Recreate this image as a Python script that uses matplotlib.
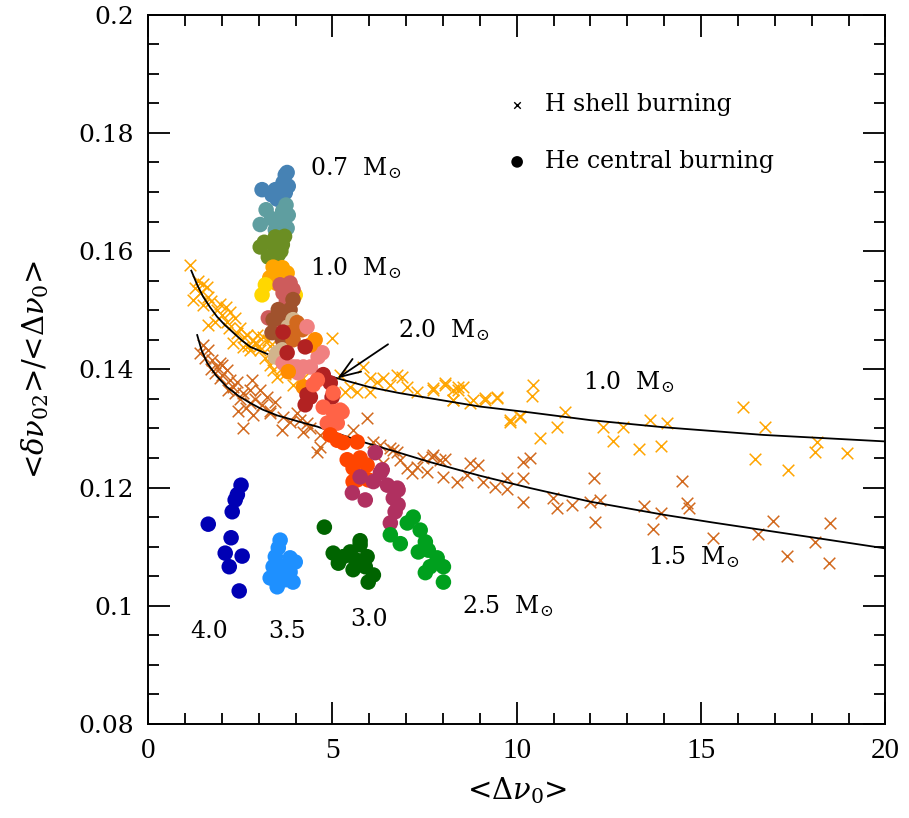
import numpy as np
import matplotlib
matplotlib.use("Agg")
import matplotlib.pyplot as plt
from matplotlib.ticker import MultipleLocator

plt.rcParams['font.family'] = ['DejaVu Serif']
plt.rcParams['mathtext.fontset'] = 'dejavuserif'

# --- H shell burning tracks (crosses) ---
h10_x = [1.14, 1.28, 1.41, 1.60, 1.22, 1.63, 1.49, 1.87, 2.01, 2.23, 1.82, 2.14, 2.36, 1.63,
         2.42, 2.69, 2.31, 2.58, 2.85, 2.96, 3.12, 3.26, 2.77, 3.04, 3.18, 3.31, 3.39, 3.50,
         3.93, 4.99, 5.83, 6.02, 6.21, 6.38, 6.76, 6.89, 6.57, 7.03, 7.30, 7.73, 8.06, 8.28,
         8.41, 8.28, 8.82, 9.15, 9.47, 9.82, 10.09, 5.48, 5.67, 5.35, 6.02, 4.20, 4.60, 5.20,
         4.40, 1.70, 1.95, 2.10, 2.50, 2.70, 2.90, 3.00, 3.30, 3.60, 2.20, 1.35, 1.50, 2.60,
         3.40, 3.70,
         7.73, 8.06, 8.41, 8.55, 8.28, 8.74, 9.15, 9.47, 9.82, 10.09, 10.45, 10.42, 10.64,
         11.10, 11.32, 12.35, 12.62, 12.89, 13.32, 13.62, 13.92, 14.08, 16.15, 16.47, 16.74,
         17.37, 18.15, 18.10, 18.97]
h10_y = [0.1577, 0.1538, 0.1529, 0.1540, 0.1518, 0.1523, 0.1509, 0.1501, 0.1492, 0.1497,
         0.1480, 0.1480, 0.1487, 0.1475, 0.1462, 0.1458, 0.1445, 0.1438, 0.1450, 0.1458,
         0.1455, 0.1450, 0.1433, 0.1433, 0.1419, 0.1408, 0.1399, 0.1387, 0.1374, 0.1453,
         0.1404, 0.1386, 0.1379, 0.1386, 0.1391, 0.1387, 0.1374, 0.1370, 0.1362, 0.1369,
         0.1377, 0.1365, 0.1370, 0.1348, 0.1348, 0.1352, 0.1353, 0.1314, 0.1320, 0.1370,
         0.1362, 0.1362, 0.1362, 0.1385, 0.1390, 0.1390, 0.1365, 0.1515, 0.1510, 0.1505,
         0.1470, 0.1440, 0.1445, 0.1440, 0.1440, 0.1400, 0.1470, 0.1550, 0.1545, 0.1455,
         0.1425, 0.1392,
         0.1365, 0.1374, 0.1365, 0.1370, 0.1348, 0.1343, 0.1348, 0.1352, 0.1311, 0.1321,
         0.1374, 0.1355, 0.1284, 0.1303, 0.1328, 0.1303, 0.1279, 0.1303, 0.1265, 0.1314,
         0.1270, 0.1309, 0.1336, 0.1249, 0.1303, 0.1230, 0.1277, 0.1260, 0.1259]

h15_x = [1.49, 1.63, 1.41, 1.74, 1.87, 2.01, 2.14, 1.82, 1.95, 2.23, 2.42, 2.17, 2.36, 2.58,
         2.77, 2.82, 3.04, 3.23, 3.45, 2.77, 2.85, 2.58, 3.31, 3.66, 3.85, 4.04, 4.31, 4.21,
         3.64, 4.67, 4.12, 4.40, 4.67, 4.59, 5.56, 5.94, 6.11, 6.30, 6.38, 6.65, 6.84, 7.03,
         7.30, 7.46, 7.57, 7.16, 6.57, 6.76, 7.73, 7.92, 1.55, 1.70, 2.00, 2.30, 2.50, 2.65,
         2.90, 3.10, 3.30, 2.45, 1.95,
         7.71, 8.06, 8.01, 8.39, 8.66, 8.74, 8.96, 9.09, 9.42, 9.74, 9.74, 10.18, 10.37,
         10.18, 10.18, 10.99, 11.10, 11.51, 12.00, 12.10, 12.27, 12.13, 13.46, 13.70, 13.92,
         14.49, 14.63, 14.68, 15.33, 16.55, 16.96, 17.34, 18.10, 18.51, 18.48]
h15_y = [0.1441, 0.1433, 0.1428, 0.1416, 0.1404, 0.1408, 0.1399, 0.1394, 0.1386, 0.1382,
         0.1379, 0.1365, 0.1360, 0.1360, 0.1365, 0.1382, 0.1365, 0.1353, 0.1345, 0.1343,
         0.1323, 0.1301, 0.1326, 0.1320, 0.1311, 0.1326, 0.1309, 0.1294, 0.1298, 0.1289,
         0.1314, 0.1301, 0.1269, 0.1260, 0.1298, 0.1318, 0.1277, 0.1272, 0.1242, 0.1264,
         0.1247, 0.1233, 0.1235, 0.1250, 0.1226, 0.1225, 0.1267, 0.1260, 0.1255, 0.1247,
         0.1420, 0.1400, 0.1390, 0.1370, 0.1350, 0.1335, 0.1350, 0.1340, 0.1330, 0.1330,
         0.1410,
         0.1252, 0.1248, 0.1218, 0.1210, 0.1221, 0.1242, 0.1238, 0.1210, 0.1201, 0.1216,
         0.1198, 0.1243, 0.1250, 0.1216, 0.1176, 0.1182, 0.1166, 0.1171, 0.1176, 0.1216,
         0.1179, 0.1142, 0.1169, 0.1130, 0.1157, 0.1211, 0.1174, 0.1166, 0.1115, 0.1122,
         0.1144, 0.1084, 0.1108, 0.1140, 0.1072]

# model curves
line10_x = [1.17, 1.33, 1.49, 1.68, 1.87, 2.08, 2.31, 2.54, 2.77, 3.04, 3.31, 3.70, 4.12,
            4.89, 6.00, 6.80, 7.65, 9.00, 10.37, 12.00, 13.98, 16.69, 18.50, 20.0]
line10_y = [0.1567, 0.1543, 0.1523, 0.1505, 0.1489, 0.1475, 0.1462, 0.1449, 0.1438, 0.1431,
            0.1424, 0.1413, 0.1403, 0.1389, 0.1370, 0.1360, 0.1351, 0.1337, 0.1327, 0.1314,
            0.1302, 0.1289, 0.1283, 0.1278]
line15_x = [1.33, 1.45, 1.60, 1.85, 2.14, 2.45, 2.77, 3.10, 3.50, 4.12, 4.59, 5.20, 5.83,
            6.70, 7.65, 9.00, 10.37, 12.00, 13.98, 15.30, 16.69, 18.30, 20.0]
line15_y = [0.1458, 0.1432, 0.1411, 0.1389, 0.1370, 0.1355, 0.1343, 0.1332, 0.1322, 0.1311,
            0.1303, 0.1290, 0.1277, 0.1261, 0.1243, 0.1220, 0.1199, 0.1176, 0.1154, 0.1141,
            0.1128, 0.1113, 0.1097]

# --- He central burning clumps (filled circles) ---
steelblue_x = [3.77, 3.72, 3.66, 3.58, 3.45, 3.36, 3.72, 3.09, 3.62, 3.50, 3.80]
steelblue_y = [0.1733, 0.1729, 0.1716, 0.1700, 0.1704, 0.1695, 0.1699, 0.1704, 0.1690, 0.1688, 0.1710]
cadet_x = [3.74, 3.80, 3.58, 3.77, 3.45, 3.04, 3.20, 3.65, 3.35]
cadet_y = [0.1678, 0.1661, 0.1650, 0.1639, 0.1636, 0.1645, 0.1670, 0.1668, 0.1655]
olive_x = [3.04, 3.39, 3.64, 3.26, 3.53, 3.45, 3.70, 3.15, 3.60]
olive_y = [0.1607, 0.1611, 0.1611, 0.1590, 0.1594, 0.1624, 0.1625, 0.1615, 0.1600]
orange_x = [3.39, 3.64, 3.77, 3.55, 3.30, 3.50]
orange_y = [0.1573, 0.1572, 0.1563, 0.1560, 0.1555, 0.1545]
gold_x = [3.18, 3.09, 3.99]
gold_y = [0.1543, 0.1526, 0.1526]
indianred_x = [3.58, 3.85, 3.66, 3.26, 3.45, 3.93, 3.75]
indianred_y = [0.1543, 0.1546, 0.1529, 0.1487, 0.1479, 0.1535, 0.1515]
sienna_x = [3.93, 3.85, 3.53, 3.39, 3.66, 3.36, 3.64]
sienna_y = [0.1518, 0.1501, 0.1501, 0.1484, 0.1484, 0.1462, 0.1450]
tan_x = [3.93, 3.80, 3.50, 3.45, 3.64]
tan_y = [0.1484, 0.1472, 0.1428, 0.1421, 0.1433]
choc_x = [4.04, 4.18, 3.93, 3.85]
choc_y = [0.1479, 0.1467, 0.1450, 0.1462]
coral_x = [4.31, 3.93, 4.21, 3.66, 4.07, 4.61, 4.72, 4.40, 4.04]
coral_y = [0.1472, 0.1404, 0.1404, 0.1411, 0.1394, 0.1421, 0.1428, 0.1404, 0.1404]
dorange_x = [4.40, 4.53, 3.80, 4.21]
dorange_y = [0.1441, 0.1450, 0.1396, 0.1370]
firebrick_x = [3.66, 4.26, 3.77, 4.75, 4.94, 4.40, 4.26, 4.99, 4.31]
firebrick_y = [0.1463, 0.1438, 0.1428, 0.1391, 0.1377, 0.1353, 0.1340, 0.1353, 0.1357]
tomato_x = [4.48, 5.02, 5.02, 5.26, 4.86, 5.13, 4.59, 4.75, 5.21]
tomato_y = [0.1374, 0.1360, 0.1328, 0.1328, 0.1309, 0.1309, 0.1382, 0.1336, 0.1331]
orangered_x = [4.94, 5.29, 5.67, 5.13, 5.40, 5.75, 5.94, 5.56, 5.67, 5.97, 5.56]
orangered_y = [0.1289, 0.1276, 0.1277, 0.1280, 0.1247, 0.1250, 0.1238, 0.1233, 0.1213, 0.1213, 0.1210]
maroon_x = [5.75, 6.30, 6.11, 6.49, 6.78, 5.54, 5.89, 6.65, 6.78, 6.70, 6.57, 6.16, 6.35, 6.76]
maroon_y = [0.1218, 0.1225, 0.1210, 0.1204, 0.1196, 0.1191, 0.1179, 0.1182, 0.1171, 0.1159,
            0.1140, 0.1259, 0.1230, 0.1199]
green_x = [7.19, 7.03, 7.38, 6.57, 6.84, 7.52, 7.60, 7.33, 7.84, 8.01, 7.65, 7.52, 8.01]
green_y = [0.1150, 0.1140, 0.1128, 0.1120, 0.1105, 0.1108, 0.1094, 0.1091, 0.1081, 0.1066,
           0.1066, 0.1056, 0.1040]
dgreen_x = [4.78, 5.75, 5.02, 5.29, 5.48, 5.94, 5.16, 5.62, 5.56, 5.89, 6.11, 5.97, 5.75]
dgreen_y = [0.1133, 0.1110, 0.1089, 0.1083, 0.1091, 0.1083, 0.1072, 0.1078, 0.1061, 0.1066,
            0.1052, 0.1040, 0.1103]
dodger_x = [3.58, 3.53, 3.45, 3.85, 3.99, 3.39, 3.66, 3.85, 3.31, 3.58, 3.93, 3.50, 3.72]
dodger_y = [0.1111, 0.1098, 0.1083, 0.1081, 0.1074, 0.1066, 0.1066, 0.1057, 0.1047, 0.1049,
            0.1040, 0.1032, 0.1044]
blue_x = [2.52, 2.42, 2.36, 2.28, 1.63, 2.25, 2.09, 2.55, 2.20, 2.47]
blue_y = [0.1204, 0.1188, 0.1179, 0.1159, 0.1138, 0.1115, 0.1089, 0.1084, 0.1066, 0.1025]

he_groups = [
    (steelblue_x, steelblue_y, '#4682b4'),
    (cadet_x, cadet_y, '#5f9ea0'),
    (olive_x, olive_y, '#6b8e23'),
    (orange_x, orange_y, '#ffa500'),
    (gold_x, gold_y, '#ffd700'),
    (indianred_x, indianred_y, '#cd5c5c'),
    (sienna_x, sienna_y, '#a0522d'),
    (tan_x, tan_y, '#d2b48c'),
    (choc_x, choc_y, '#d2691e'),
    (coral_x, coral_y, '#f08080'),
    (dorange_x, dorange_y, '#ff8c00'),
    (firebrick_x, firebrick_y, '#b22222'),
    (tomato_x, tomato_y, '#ff6347'),
    (orangered_x, orangered_y, '#ff4500'),
    (maroon_x, maroon_y, '#b03060'),
    (green_x, green_y, '#00a01e'),
    (dgreen_x, dgreen_y, '#006400'),
    (dodger_x, dodger_y, '#1e90ff'),
    (blue_x, blue_y, '#0000b4'),
]

fig = plt.figure(figsize=(9.09, 8.18), dpi=100)
ax = fig.add_axes([0.163, 0.115, 0.811, 0.867])

ax.scatter(h10_x, h10_y, marker='x', s=70, color='#ffa500', linewidths=1.1, zorder=1)
ax.scatter(h15_x, h15_y, marker='x', s=70, color='#d2691e', linewidths=1.1, zorder=1)
ax.plot(line10_x, line10_y, color='black', lw=1.3, zorder=2)
ax.plot(line15_x, line15_y, color='black', lw=1.3, zorder=2)

for gx, gy, col in he_groups:
    ax.scatter(gx, gy, s=125, color=col, edgecolors='none', zorder=3)

ax.annotate('', xy=(5.07, 0.1382), xytext=(6.57, 0.1445),
            arrowprops=dict(arrowstyle='->,head_length=1.5,head_width=0.55',
                            color='black', lw=1.3), zorder=5)

fs = 17
msun = r'$\mathregular{M}_{\odot}$'
ax.text(4.40, 0.1741, '0.7  ' + msun, fontsize=fs, va='center')
ax.text(4.40, 0.1572, '1.0  ' + msun, fontsize=fs, va='center')
ax.text(6.78, 0.1467, '2.0  ' + msun, fontsize=fs, va='center')
ax.text(11.80, 0.1379, '1.0  ' + msun, fontsize=fs, va='center')
ax.text(13.57, 0.1083, '1.5  ' + msun, fontsize=fs, va='center')
ax.text(8.52, 0.0999, '2.5  ' + msun, fontsize=fs, va='center')
ax.text(5.48, 0.0976, '3.0', fontsize=fs, va='center')
ax.text(3.26, 0.0956, '3.5', fontsize=fs, va='center')
ax.text(1.14, 0.0956, '4.0', fontsize=fs, va='center')

# legend drawn by hand
ax.scatter([10.01], [0.1848], marker='x', s=22, color='black', linewidths=1.0)
ax.scatter([10.01], [0.1751], marker='o', s=70, color='black', edgecolors='none')
ax.text(10.77, 0.1848, 'H shell burning', fontsize=fs, va='center')
ax.text(10.77, 0.1751, 'He central burning', fontsize=fs, va='center')

ax.set_xlim(0, 20)
ax.set_ylim(0.08, 0.2)
ax.xaxis.set_major_locator(MultipleLocator(5))
ax.xaxis.set_minor_locator(MultipleLocator(1))
ax.yaxis.set_minor_locator(MultipleLocator(0.005))
ax.set_yticks([0.08, 0.1, 0.12, 0.14, 0.16, 0.18, 0.2])
ax.set_yticklabels(['0.08', '0.1', '0.12', '0.14', '0.16', '0.18', '0.2'])
ax.tick_params(which='both', direction='in', top=True, right=True, width=1.3)
ax.tick_params(which='major', length=16, labelsize=18, pad=10)
ax.tick_params(which='minor', length=8)
for lab in ax.get_xticklabels():
    lab.set_family('Liberation Serif')
    lab.set_fontsize(21)
for sp in ax.spines.values():
    sp.set_linewidth(1.4)

ax.set_xlabel('<' + r'$\Delta\nu_0$' + '>', fontsize=21, labelpad=8)
ax.set_ylabel('<' + r'$\delta\nu_{02}$' + '>/<' + r'$\Delta\nu_0$' + '>',
              fontsize=21, labelpad=20)

fig.savefig('out.png', dpi=100)
